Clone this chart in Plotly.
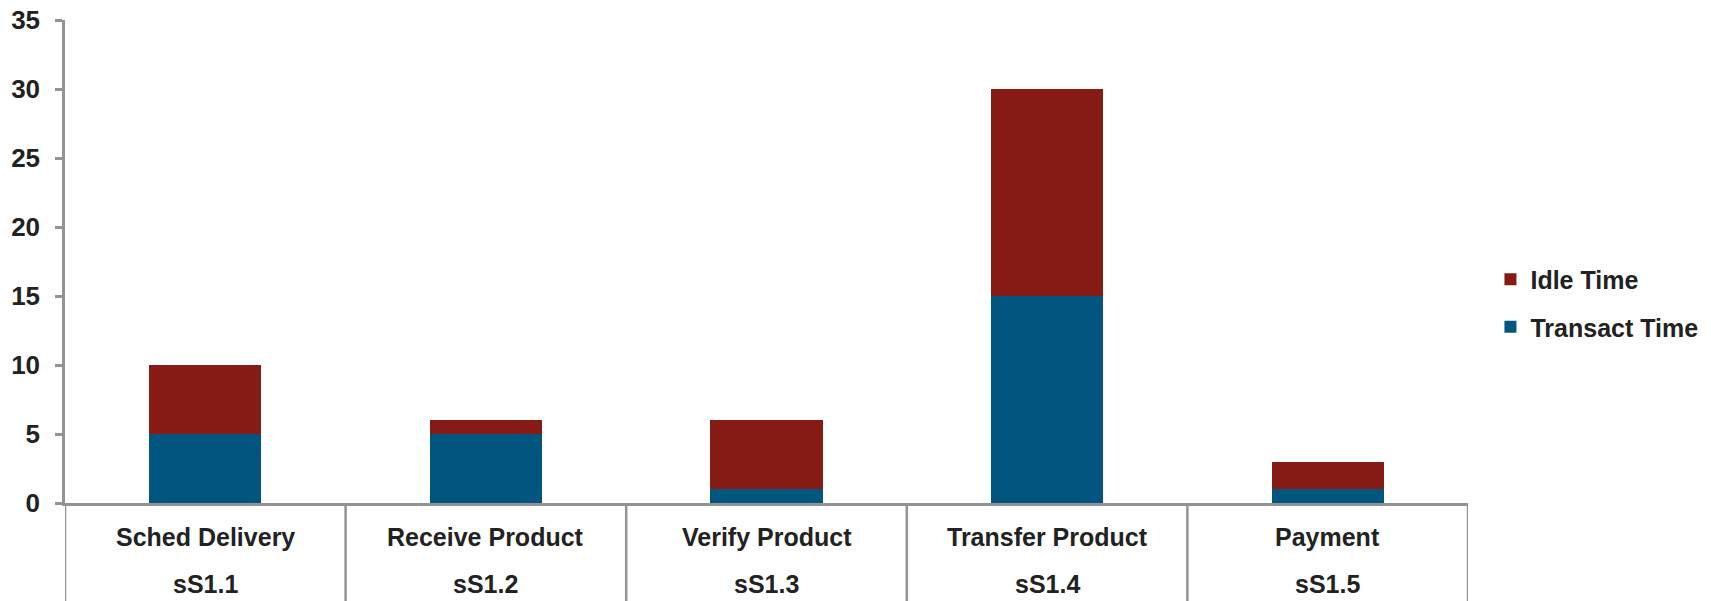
import plotly.graph_objects as go

categories = ["Sched Delivery", "Receive Product", "Verify Product", "Transfer Product", "Payment"]
codes = ["sS1.1", "sS1.2", "sS1.3", "sS1.4", "sS1.5"]
transact_time = [5, 5, 1, 15, 1]
idle_time = [5, 1, 5, 15, 2]
y_ticks = [0, 5, 10, 15, 20, 25, 30, 35]

RED = "#861A14"
BLUE = "#02557F"
GREY = "#939393"
TXT = "#222222"
FONT = "Liberation Sans, Arial, sans-serif"

W, H = 1711, 601
ml, mr, mt, mb = 65, 243, 20, 98

fig = go.Figure()
fig.add_trace(go.Bar(x=categories, y=transact_time, name="Transact Time",
                     marker=dict(color=BLUE, line=dict(width=0)), width=0.4,
                     legendgroup="t", legendrank=2))
fig.add_trace(go.Bar(x=categories, y=idle_time, name="Idle Time",
                     marker=dict(color=RED, line=dict(width=0)), width=0.4,
                     legendgroup="i", legendrank=1))

annotations = []
for c, code in zip(categories, codes):
    annotations.append(dict(x=c, xref="x", y=0, yref="paper", yanchor="middle",
                            yshift=-34, text=c, showarrow=False,
                            font=dict(family=FONT, size=25, color=TXT, weight="bold")))
    annotations.append(dict(x=c, xref="x", y=0, yref="paper", yanchor="middle",
                            yshift=-81, text=code, showarrow=False,
                            font=dict(family=FONT, size=25, color=TXT, weight="bold")))

shapes = []
for i in range(len(categories) + 1):
    shapes.append(dict(type="line", xref="x", yref="paper",
                       x0=i - 0.5, x1=i - 0.5, y0=0, y1=-0.25,
                       line=dict(color=GREY, width=2.5)))

fig.update_layout(
    width=W, height=H,
    margin=dict(l=ml, r=mr, t=mt, b=mb, pad=0, autoexpand=False),
    barmode="stack",
    bargap=0.6,
    plot_bgcolor="white", paper_bgcolor="white",
    font=dict(family=FONT, size=25, color=TXT, weight="bold"),
    xaxis=dict(range=[-0.5, len(categories) - 0.5], showticklabels=False,
               ticks="", showgrid=False, showline=True, linecolor=GREY,
               linewidth=2.5, zeroline=False, automargin=False),
    yaxis=dict(range=[0, 35], tickvals=y_ticks, ticks="outside", ticklen=7,
               tickwidth=2.5, tickcolor=GREY, showline=True, linecolor=GREY,
               linewidth=2.5, showgrid=False, zeroline=False, automargin=False,
               ticklabelstandoff=10,
               tickfont=dict(family=FONT, size=26, color=TXT, weight="bold")),
    legend=dict(x=1.016, xanchor="left", y=0.414, yanchor="middle",
                traceorder="grouped", tracegroupgap=12,
                font=dict(family=FONT, size=25, color=TXT, weight="bold"),
                itemwidth=30, bgcolor="rgba(0,0,0,0)"),
    annotations=annotations,
    shapes=shapes,
)

fig.write_html("out.html")
